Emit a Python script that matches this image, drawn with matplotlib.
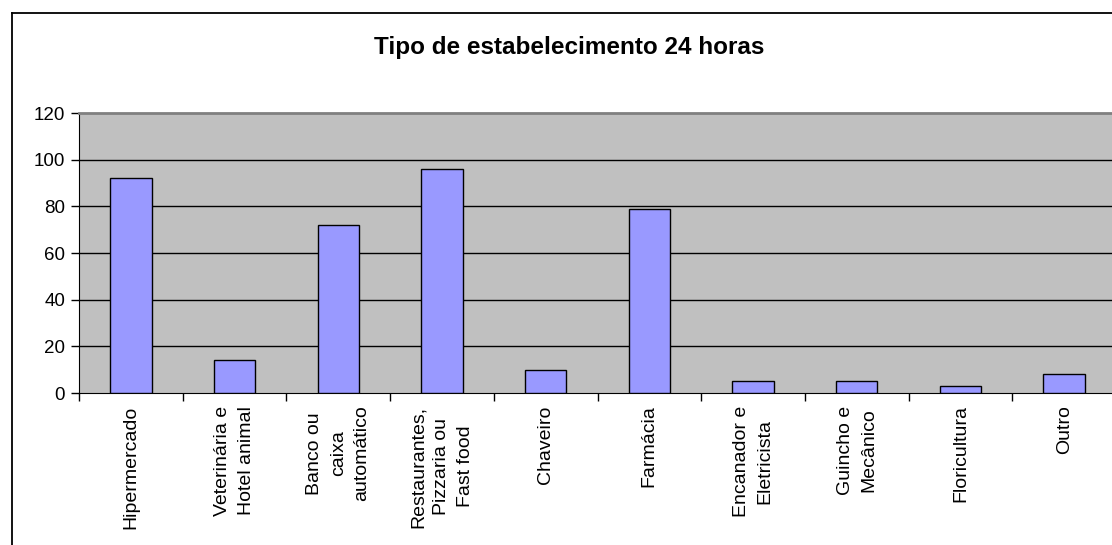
import matplotlib
matplotlib.use('Agg')
import matplotlib.pyplot as plt
from matplotlib.lines import Line2D
import numpy as np

plt.rcParams['font.family'] = ['Liberation Sans', 'DejaVu Sans']

categorias = ['Hipermercado', 'Veterinária e\nHotel animal', 'Banco ou\ncaixa\nautomático',
              'Restaurantes,\nPizzaria ou\nFast food', 'Chaveiro', 'Farmácia',
              'Encanador e\nEletricista', 'Guincho e\nMecânico', 'Floricultura', 'Outro']
valores = [92, 14, 72, 96, 10, 79, 5, 5, 3, 8]
yticks = [0, 20, 40, 60, 80, 100, 120]

W, H = 1112, 545
fig = plt.figure(figsize=(W / 100, H / 100), dpi=100)

# area do grafico (sai um pouco pela direita, como no original)
ax = fig.add_axes([79 / W, 1 - 393 / H, 1037 / W, 280 / H])
ax.set_facecolor('#C0C0C0')

x = np.arange(len(categorias))
for y in yticks[1:-1]:
    ax.axhline(y, color='black', lw=1, zorder=1)
ax.bar(x, valores, width=0.4, color='#9999FF', edgecolor='black', linewidth=1, zorder=3)

ax.set_xlim(-0.5, len(categorias) - 0.5)
ax.set_ylim(0, 120)
ax.set_yticks(yticks)
ax.tick_params(axis='y', labelsize=13.5, length=6, width=1, pad=4, direction='out')

ax.set_xticks(x - 0.5, minor=False)
ax.set_xticklabels([])
ax.set_xticks(x, minor=True)
ax.set_xticklabels(categorias, minor=True, rotation=90, fontsize=14,
                   ha='center', va='top', multialignment='center', linespacing=1.5)
ax.tick_params(axis='x', which='major', length=6, width=1, direction='out')
ax.tick_params(axis='x', which='minor', length=0, pad=9)

ax.spines['left'].set_color('black')
ax.spines['bottom'].set_color('black')
ax.spines['top'].set_color('#808080')
ax.spines['top'].set_linewidth(2)
ax.spines['right'].set_color('#808080')

fig.text(569 / W, 1 - 47 / H, 'Tipo de estabelecimento 24 horas', ha='center', va='center',
         fontsize=17.5, fontweight='bold')

# moldura externa do grafico
fig.add_artist(Line2D([12 / W, 12 / W], [0, 1 - 13 / H], color='black', lw=1.3, transform=fig.transFigure))
fig.add_artist(Line2D([12 / W, 1], [1 - 13 / H, 1 - 13 / H], color='black', lw=1.3, transform=fig.transFigure))

plt.savefig('out.png', dpi=100)
